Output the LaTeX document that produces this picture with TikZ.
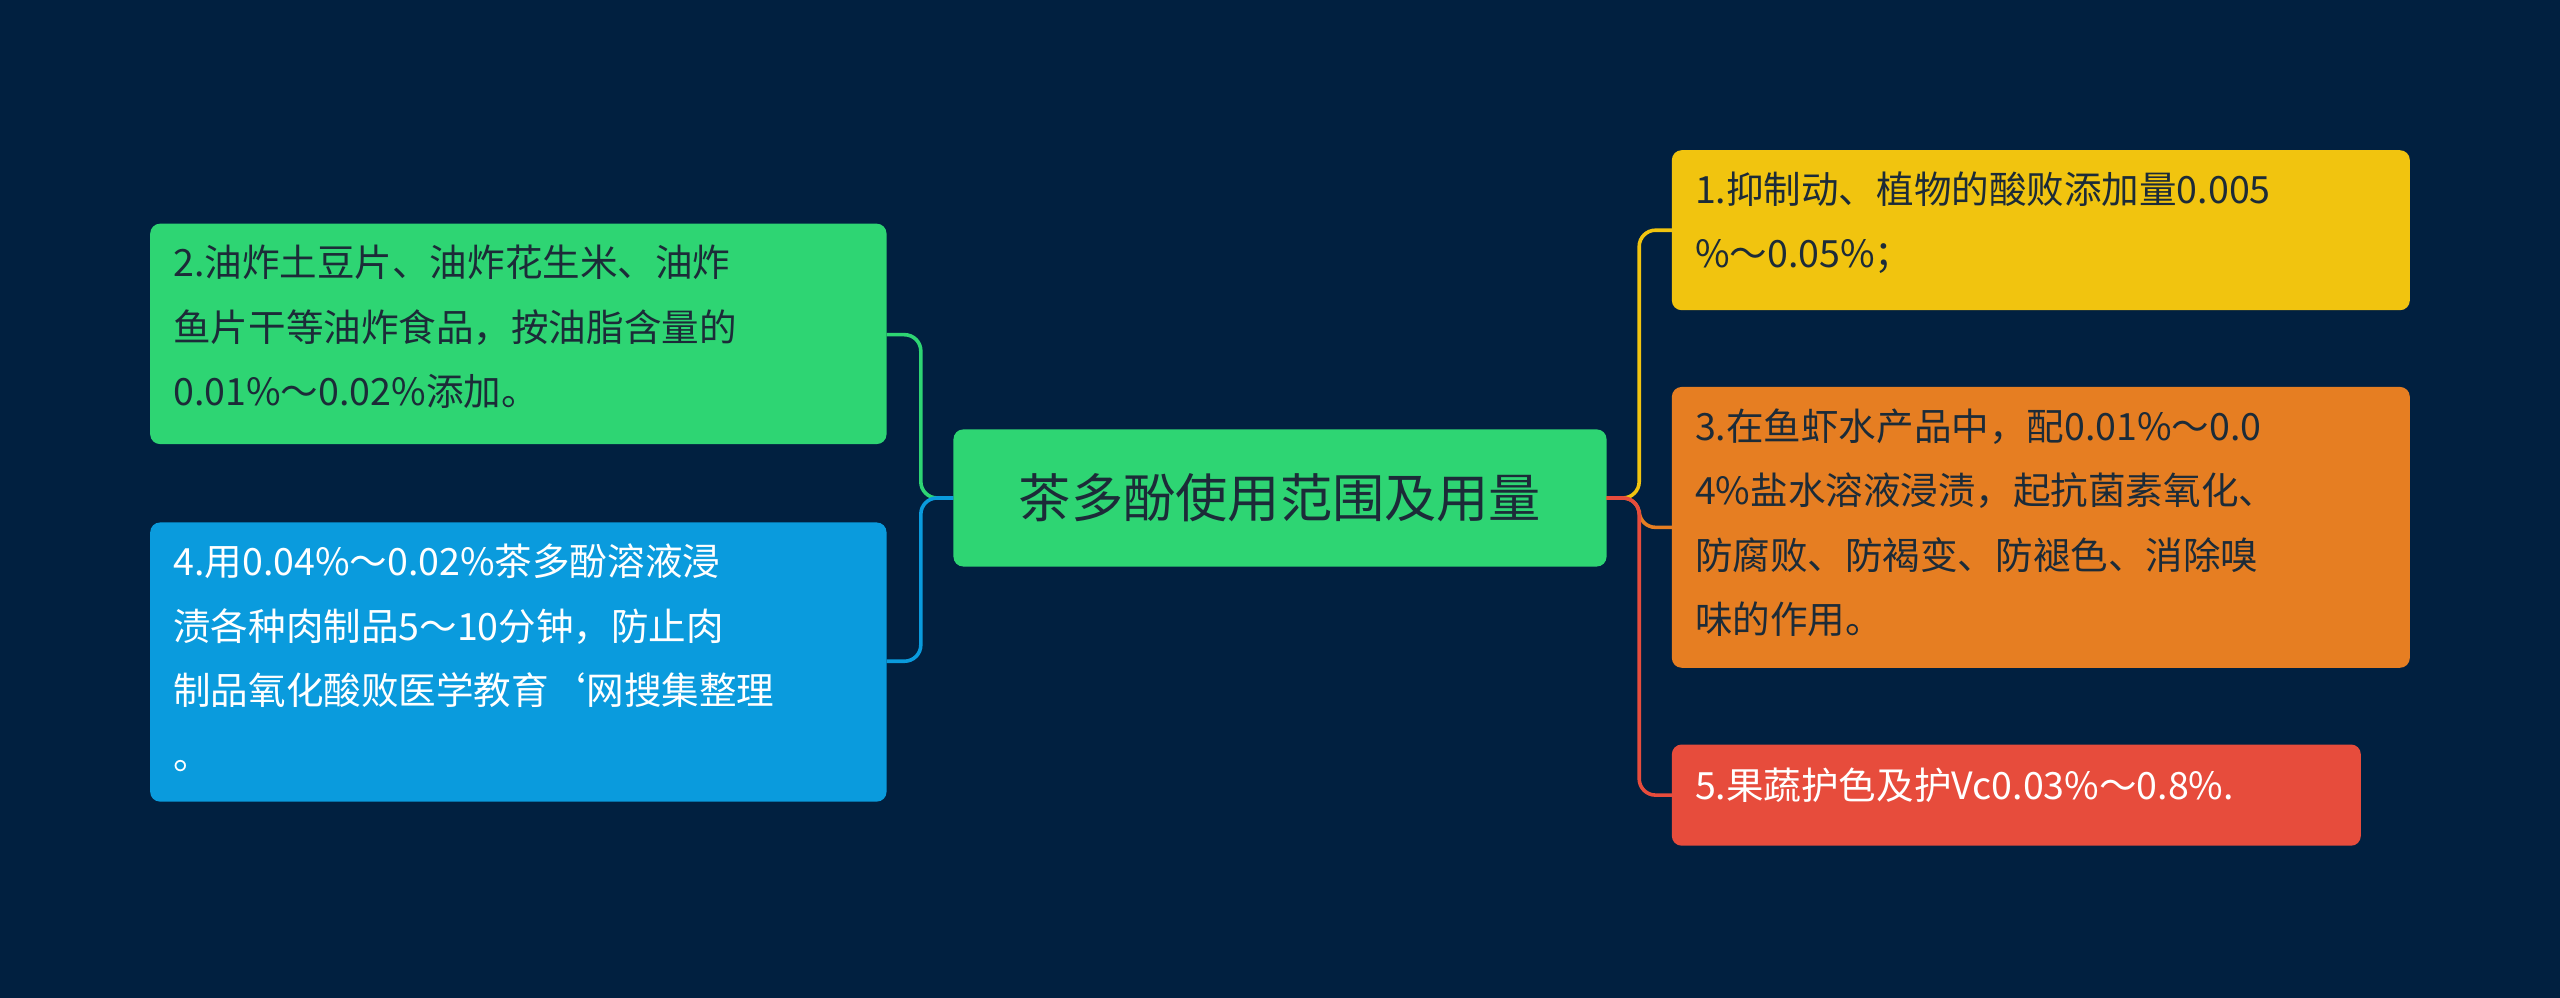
\documentclass[tikz,border=0pt]{standalone}
\usepackage{fontspec}
\setmainfont{Noto Sans CJK SC}
\definecolor{bg}{HTML}{012040}
\definecolor{cg}{HTML}{2ED573}
\definecolor{cy}{HTML}{F1C40F}
\definecolor{co}{HTML}{E67E22}
\definecolor{cr}{HTML}{E74C3C}
\definecolor{cb}{HTML}{0A9BDD}
\definecolor{dk}{HTML}{1C2B38}
\begin{document}
\begin{tikzpicture}[x=1pt,y=-1pt,
  box/.style={rounded corners=5pt,inner sep=0pt},
  txt/.style={anchor=north west,align=left,font=\fontsize{23}{39.5}\selectfont,inner sep=0pt},
  conn/.style={line width=2.2pt,rounded corners=10pt}]
\fill[bg] (0,0) rectangle (1568,611);
\useasboundingbox (0,0) rectangle (1568,611);
% boxes
\fill[cg,rounded corners=6pt] (584,263) rectangle (984,347);
\node (c) at (784,305) {\fontsize{32}{36}\selectfont\color{dk}茶多酚使用范围及用量};
\coordinate (cl) at (584,305); \coordinate (cr) at (984,305);
\fill[cy,rounded corners=6pt] (1024,92) rectangle (1476,190);
\coordinate (a1) at (1024,141);
\node[txt,text=dk] (t1) at (1038,105) {1.抑制动、植物的酸败添加量0.005\\\%～0.05\%；};
\fill[co,rounded corners=6pt] (1024,237) rectangle (1476,409);
\coordinate (a3) at (1024,323);
\node[txt,text=dk] (t3) at (1038,250) {3.在鱼虾水产品中，配0.01\%～0.0\\4\%盐水溶液浸渍，起抗菌素氧化、\\防腐败、防褐变、防褪色、消除嗅\\味的作用。};
\fill[cr,rounded corners=6pt] (1024,456) rectangle (1446,518);
\coordinate (a5) at (1024,487);
\node[txt,text=white] (t5) at (1038,470) {5.果蔬护色及护Vc0.03\%～0.8\%.};
\fill[cg,rounded corners=6pt] (92,137) rectangle (543,272);
\coordinate (a2) at (543,205);
\node[txt,text=dk] (t2) at (106,150) {2.油炸土豆片、油炸花生米、油炸\\鱼片干等油炸食品，按油脂含量的\\0.01\%～0.02\%添加。};
\fill[cb,rounded corners=6pt] (92,320) rectangle (543,491);
\coordinate (a4) at (543,405);
\node[txt,text=white] (t4) at (106,333) {4.用0.04\%～0.02\%茶多酚溶液浸\\渍各种肉制品5～10分钟，防止肉\\制品氧化酸败医学教育`网搜集整理\\。};
% connectors
\draw[conn,cy] (cr) -- (1004,305) -- (1004,141) -- (a1);
\draw[conn,co] (cr) -- (1004,305) -- (1004,323) -- (a3);
\draw[conn,cr] (cr) -- (1004,305) -- (1004,487) -- (a5);
\draw[conn,cg] (cl) -- (564,305) -- (564,205) -- (a2);
\draw[conn,cb] (cl) -- (564,305) -- (564,405) -- (a4);
\end{tikzpicture}
\end{document}
